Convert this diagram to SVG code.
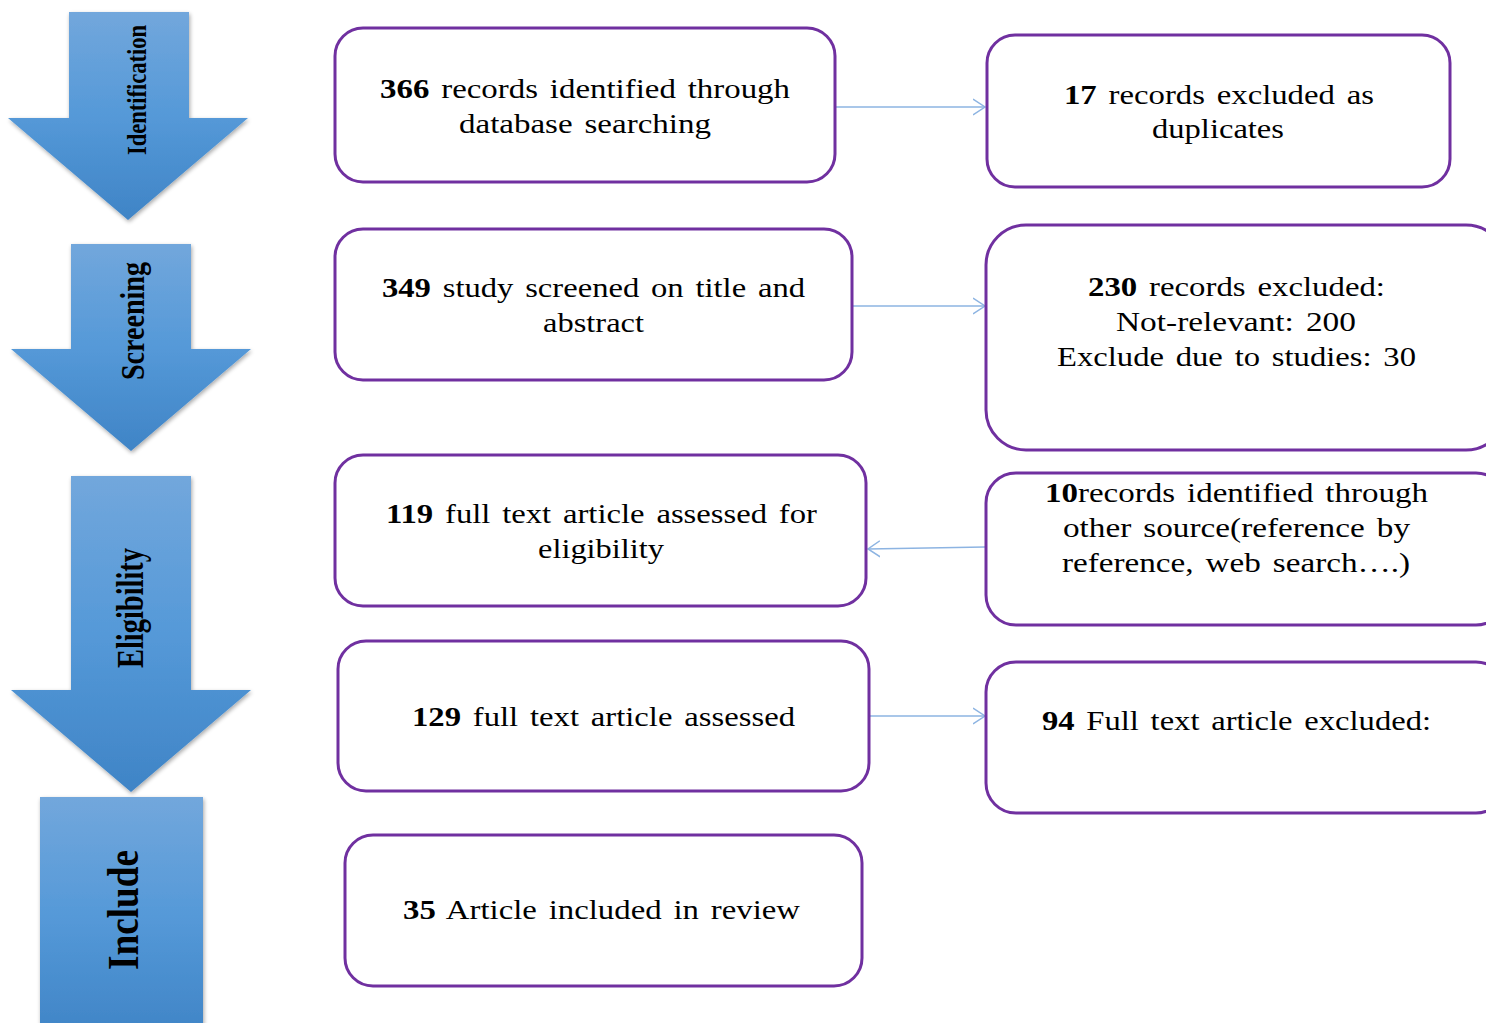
<svg xmlns="http://www.w3.org/2000/svg" width="1486" height="1023" viewBox="0 0 1486 1023">
<defs>
<linearGradient id="blue" x1="0" y1="0" x2="0" y2="1">
<stop offset="0" stop-color="#72a7dc"/>
<stop offset="0.5" stop-color="#5599d8"/>
<stop offset="1" stop-color="#3f84c6"/>
</linearGradient>
<filter id="sh" x="-10%" y="-10%" width="120%" height="120%">
<feGaussianBlur in="SourceAlpha" stdDeviation="2"/>
<feOffset dx="1" dy="2"/>
<feComponentTransfer><feFuncA type="linear" slope="0.35"/></feComponentTransfer>
<feMerge><feMergeNode/><feMergeNode in="SourceGraphic"/></feMerge>
</filter>
<marker id="ah" markerWidth="14" markerHeight="18" refX="12" refY="9" orient="auto" markerUnits="userSpaceOnUse">
<path d="M0,1 L12,9 L0,17" fill="none" stroke="#8db4e2" stroke-width="1.5"/>
</marker>
<style>
.stage{fill:url(#blue);filter:url(#sh);}
.stl{font-family:"Liberation Serif","Times New Roman",serif;font-weight:bold;fill:#000;text-anchor:middle;}
.box{fill:#fff;stroke:#7030a0;stroke-width:3;}
.t{font-family:"Liberation Serif","Times New Roman",serif;font-size:27px;fill:#000;white-space:pre;word-spacing:3px;}
.b{font-weight:bold;}
.con{stroke:#8db4e2;stroke-width:1.5;fill:none;marker-end:url(#ah);}
</style>
</defs>
<rect width="1486" height="1023" fill="#fff"/>

<g id="stage-identification">
<path class="stage" d="M69,12 H189 V118 H248 L128,220 L8,118 H69 Z"/>
<text class="stl" transform="translate(146,90) rotate(-90)" font-size="27" textLength="130" lengthAdjust="spacingAndGlyphs">Identification</text>
</g>
<g id="stage-screening">
<path class="stage" d="M71,244 H191 V349 H251 L131,451 L11,349 H71 Z"/>
<text class="stl" transform="translate(144,321) rotate(-90)" font-size="33" textLength="118" lengthAdjust="spacingAndGlyphs">Screening</text>
</g>
<g id="stage-eligibility">
<path class="stage" d="M71,476 H191 V690 H251 L131,792 L11,690 H71 Z"/>
<text class="stl" transform="translate(143,608) rotate(-90)" font-size="37" textLength="120" lengthAdjust="spacingAndGlyphs">Eligibility</text>
</g>
<g id="stage-include">
<rect class="stage" x="40" y="797" width="163" height="240"/>
<text class="stl" transform="translate(138,910) rotate(-90)" font-size="45" textLength="120" lengthAdjust="spacingAndGlyphs">Include</text>
</g>

<g id="connectors">
<line class="con" x1="836" y1="107" x2="985" y2="107"/>
<line class="con" x1="853" y1="306" x2="985" y2="306"/>
<line class="con" x1="985" y1="547" x2="868" y2="549"/>
<line class="con" x1="870" y1="716" x2="985" y2="716"/>
</g>

<g id="box-366">
<rect class="box" x="335" y="28" width="500" height="154" rx="28"/>
<text class="t" x="380" y="98" textLength="410" lengthAdjust="spacingAndGlyphs"><tspan class="b">366</tspan> records identified through</text>
<text class="t" x="459" y="133" textLength="252" lengthAdjust="spacingAndGlyphs">database searching</text>
</g>
<g id="box-17">
<rect class="box" x="987" y="35" width="463" height="152" rx="28"/>
<text class="t" x="1064" y="104" textLength="310" lengthAdjust="spacingAndGlyphs"><tspan class="b">17</tspan> records excluded as</text>
<text class="t" x="1152" y="138" textLength="132" lengthAdjust="spacingAndGlyphs">duplicates</text>
</g>
<g id="box-349">
<rect class="box" x="335" y="229" width="517" height="151" rx="28"/>
<text class="t" x="382" y="297" textLength="423" lengthAdjust="spacingAndGlyphs"><tspan class="b">349</tspan> study screened on title and</text>
<text class="t" x="543" y="332" textLength="101" lengthAdjust="spacingAndGlyphs">abstract</text>
</g>
<g id="box-230">
<rect class="box" x="986" y="225" width="520" height="225" rx="40"/>
<text class="t" x="1088" y="296" textLength="297" lengthAdjust="spacingAndGlyphs"><tspan class="b">230</tspan> records excluded:</text>
<text class="t" x="1116" y="331" textLength="240" lengthAdjust="spacingAndGlyphs">Not-relevant: 200</text>
<text class="t" x="1057" y="366" textLength="359" lengthAdjust="spacingAndGlyphs">Exclude due to studies: 30</text>
</g>
<g id="box-119">
<rect class="box" x="335" y="455" width="531" height="151" rx="28"/>
<text class="t" x="386" y="523" textLength="431" lengthAdjust="spacingAndGlyphs"><tspan class="b">119</tspan> full text article assessed for</text>
<text class="t" x="538" y="558" textLength="126" lengthAdjust="spacingAndGlyphs">eligibility</text>
</g>
<g id="box-10">
<rect class="box" x="986" y="473" width="520" height="152" rx="30"/>
<text class="t" x="1045" y="502" textLength="383" lengthAdjust="spacingAndGlyphs"><tspan class="b">10</tspan>records identified through</text>
<text class="t" x="1063" y="537" textLength="347" lengthAdjust="spacingAndGlyphs">other source(reference by</text>
<text class="t" x="1062" y="572" textLength="348" lengthAdjust="spacingAndGlyphs">reference, web search….)</text>
</g>
<g id="box-129">
<rect class="box" x="338" y="641" width="531" height="150" rx="28"/>
<text class="t" x="412" y="726" textLength="383" lengthAdjust="spacingAndGlyphs"><tspan class="b">129</tspan> full text article assessed</text>
</g>
<g id="box-94">
<rect class="box" x="986" y="662" width="520" height="151" rx="30"/>
<text class="t" x="1042" y="730" textLength="389" lengthAdjust="spacingAndGlyphs"><tspan class="b">94</tspan> Full text article excluded:</text>
</g>
<g id="box-35">
<rect class="box" x="345" y="835" width="517" height="151" rx="28"/>
<text class="t" x="403" y="919" textLength="397" lengthAdjust="spacingAndGlyphs"><tspan class="b">35</tspan> Article included in review</text>
</g>
</svg>
